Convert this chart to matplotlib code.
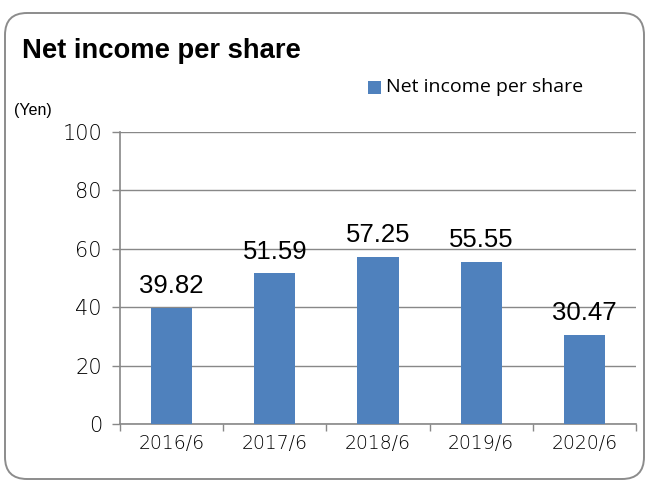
import matplotlib
matplotlib.use("Agg")
import matplotlib.pyplot as plt
from matplotlib.patches import FancyBboxPatch
from matplotlib.transforms import IdentityTransform
import numpy as np

categories = ["2016/6", "2017/6", "2018/6", "2019/6", "2020/6"]
values = [39.82, 51.59, 57.25, 55.55, 30.47]
y_ticks = [0, 20, 40, 60, 80, 100]

title = "Net income per share"
series_name = "Net income per share"
unit = "(Yen)"

bar_color = "#4F81BD"
grid_color = "#888888"
tick_text = "#000000"

W, H, DPI = 646, 482, 100
fig = plt.figure(figsize=(W / DPI, H / DPI), dpi=DPI)
fig.patch.set_facecolor("white")

# rounded outer frame, in pixel coordinates
frame = FancyBboxPatch((5, 3), 639, 466,
                       boxstyle="round,pad=0,rounding_size=22",
                       transform=IdentityTransform(),
                       facecolor="none", edgecolor="#8c8c8c", linewidth=1.4)
fig.patches.append(frame)

ax = fig.add_axes([120 / W, 58 / H, (636 - 120) / W, (424 - 132) / H])
x = np.arange(len(categories))
ax.bar(x, values, width=0.4, color=bar_color, zorder=3)

ax.set_xlim(-0.5, len(categories) - 0.5)
ax.set_ylim(0, 100)
ax.set_yticks(y_ticks)
ax.set_yticklabels([str(t) for t in y_ticks], fontsize=15, family="DejaVu Sans",
                   fontweight=200, color=tick_text)
ax.set_xticks(x)
ax.set_xticklabels(categories, fontsize=13.5, family="DejaVu Sans",
                   fontweight=200, color=tick_text)
ax.tick_params(axis="x", which="major", length=0, pad=7)
ax.set_xticks(np.arange(-0.5, len(categories)), minor=True)
ax.tick_params(axis="x", which="minor", length=5, color=grid_color, width=1)
ax.tick_params(axis="y", length=6, color=grid_color, width=1, pad=7)

ax.yaxis.grid(True, color=grid_color, linewidth=1, zorder=0)
ax.set_axisbelow(True)
for side in ["top", "right"]:
    ax.spines[side].set_visible(False)
for side in ["left", "bottom"]:
    ax.spines[side].set_color(grid_color)
    ax.spines[side].set_linewidth(1.2)

for xi, v in zip(x, values):
    ax.annotate(f"{v:.2f}", (xi, v), xytext=(0, 7), textcoords="offset points",
                ha="center", va="bottom", fontsize=18.5, family="Liberation Sans",
                color="black")

fig.text(22 / W, 1 - 51 / H, title, fontsize=19.7, fontweight="bold",
         family="Liberation Sans", va="center", ha="left", color="black")

# legend entry
fig.patches.append(plt.Rectangle((368 / W, 1 - 94 / H), 13 / W, 13 / H,
                                 transform=fig.transFigure, facecolor=bar_color,
                                 edgecolor="none"))
fig.text(386 / W, 1 - 87 / H, series_name, fontsize=14, family="Open Sans",
         va="center", ha="left", color="black")

fig.text(14 / W, 1 - 110 / H, unit, fontsize=11.5, family="Liberation Sans",
         va="center", ha="left", color="black")

fig.savefig("out.png", dpi=DPI, facecolor="white")
